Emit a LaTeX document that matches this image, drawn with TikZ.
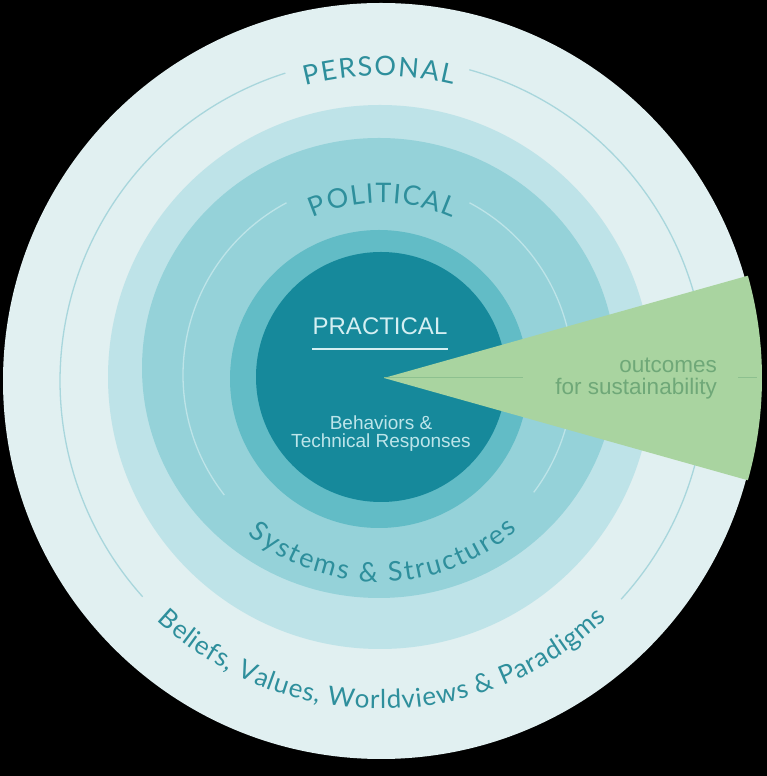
\documentclass[tikz,border=0pt]{standalone}
\usepackage{fontspec}
\setmainfont{Liberation Sans}
\newfontfamily\arcfont{Lato}
\usetikzlibrary{decorations.text}

\definecolor{personalfill}{HTML}{E1F0F1}
\definecolor{bandfill}{HTML}{BEE3E8}
\definecolor{politicalfill}{HTML}{95D2D9}
\definecolor{systemsfill}{HTML}{62BCC6}
\definecolor{practicalfill}{HTML}{16899B}
\definecolor{labelteal}{HTML}{2E8F9C}
\definecolor{corelabel}{HTML}{D4EFF2}
\definecolor{coretext}{HTML}{BDE5EA}
\definecolor{outcomegreen}{HTML}{A9D4A0}
\definecolor{outcometext}{HTML}{6FA878}
\definecolor{outcomeline}{HTML}{8DC08F}
\definecolor{outerguide}{HTML}{A8D6DC}
\definecolor{innerguide}{HTML}{BDE4E8}

\begin{document}
\begin{tikzpicture}[
                    x=1pt,y=1pt,
                    guide/.style={line width=1.3pt},
                    arclabel/.style={decorate,
                      decoration={text along path, text align={fit to path},
                                  text color=labelteal, text={#1}}}
                  ]
  \useasboundingbox (0,0) rectangle (767,776);
  \fill[black] (0,0) rectangle (767,776);

  % levels
  \coordinate (ctr) at (381,395);
  \fill[personalfill] (ctr) circle[radius=378];
  \fill[bandfill] (380,399) circle[radius=272];
  \fill[politicalfill] (379,408) ellipse[x radius=237, y radius=230];
  \fill[systemsfill] (379,397) circle[radius=149];
  \fill[practicalfill] (381,399) circle[radius=125];

  % thin guide arcs
  \draw[guide, outerguide] (383,395) ++(74.5:323) arc[start angle=74.5, end angle=-42.5, radius=323];
  \draw[guide, outerguide] (383,395) ++(107.6:323) arc[start angle=107.6, end angle=221.9, radius=323];
  \draw[guide, innerguide] (378,401) ++(62:195) arc[start angle=62, end angle=-37, radius=195];
  \draw[guide, innerguide] (378,401) ++(118:195) arc[start angle=118, end angle=218, radius=195];

  % outcomes wedge
  \coordinate (apex) at (384,398);
  \fill[outcomegreen] (apex) -- ++(15.7:378) arc[start angle=15.7, end angle=-15.7, radius=378] -- cycle;
  \coordinate (lineA) at (523,398);
  \coordinate (lineB) at (738,398);
  \coordinate (lineC) at (757,398);
  \draw[outcomeline, line width=1pt] (apex) -- (lineA);
  \draw[outcomeline, line width=1pt] (lineB) -- (lineC);
  \node[text=outcometext, align=right, anchor=east, inner sep=0,
        font=\fontsize{22.5}{22}\selectfont] (outcomes) at (717,397) {outcomes\\for sustainability};

  % core
  \node[text=corelabel, inner sep=0, font=\fontsize{24}{24}\selectfont] (practical) at (380,450) {PRACTICAL};
  \draw[corelabel, line width=2pt] ([yshift=-14pt]practical.south west) -- ([yshift=-14pt]practical.south east);
  \node[text=coretext, align=center, inner sep=0,
        font=\fontsize{19}{18}\selectfont] (behaviors) at (381,342) {Behaviors \&\\Technical Responses};

  % curved labels
  \path[arclabel={|\arcfont\fontsize{27}{27}\selectfont|PERSONAL}]
    (381,395) ++(104.4:305) arc[start angle=104.4, end angle=76.35, radius=305];
  \path[arclabel={|\arcfont\fontsize{27}{27}\selectfont|POLITICAL}]
    (382,401) ++(113.65:172) arc[start angle=113.65, end angle=66, radius=172];
  \path[arclabel={|\arcfont\fontsize{27}{27}\selectfont|Systems {\&} Structures}]
    (380,401) ++(230.3:207) arc[start angle=230.3, end angle=311.5, radius=207];
  \path[arclabel={|\arcfont\fontsize{26}{26}\selectfont|Beliefs, Values, Worldviews {\&} Paradigms}]
    (381,395) ++(226.9:328) arc[start angle=226.9, end angle=313.5, radius=328];
\end{tikzpicture}
\end{document}
